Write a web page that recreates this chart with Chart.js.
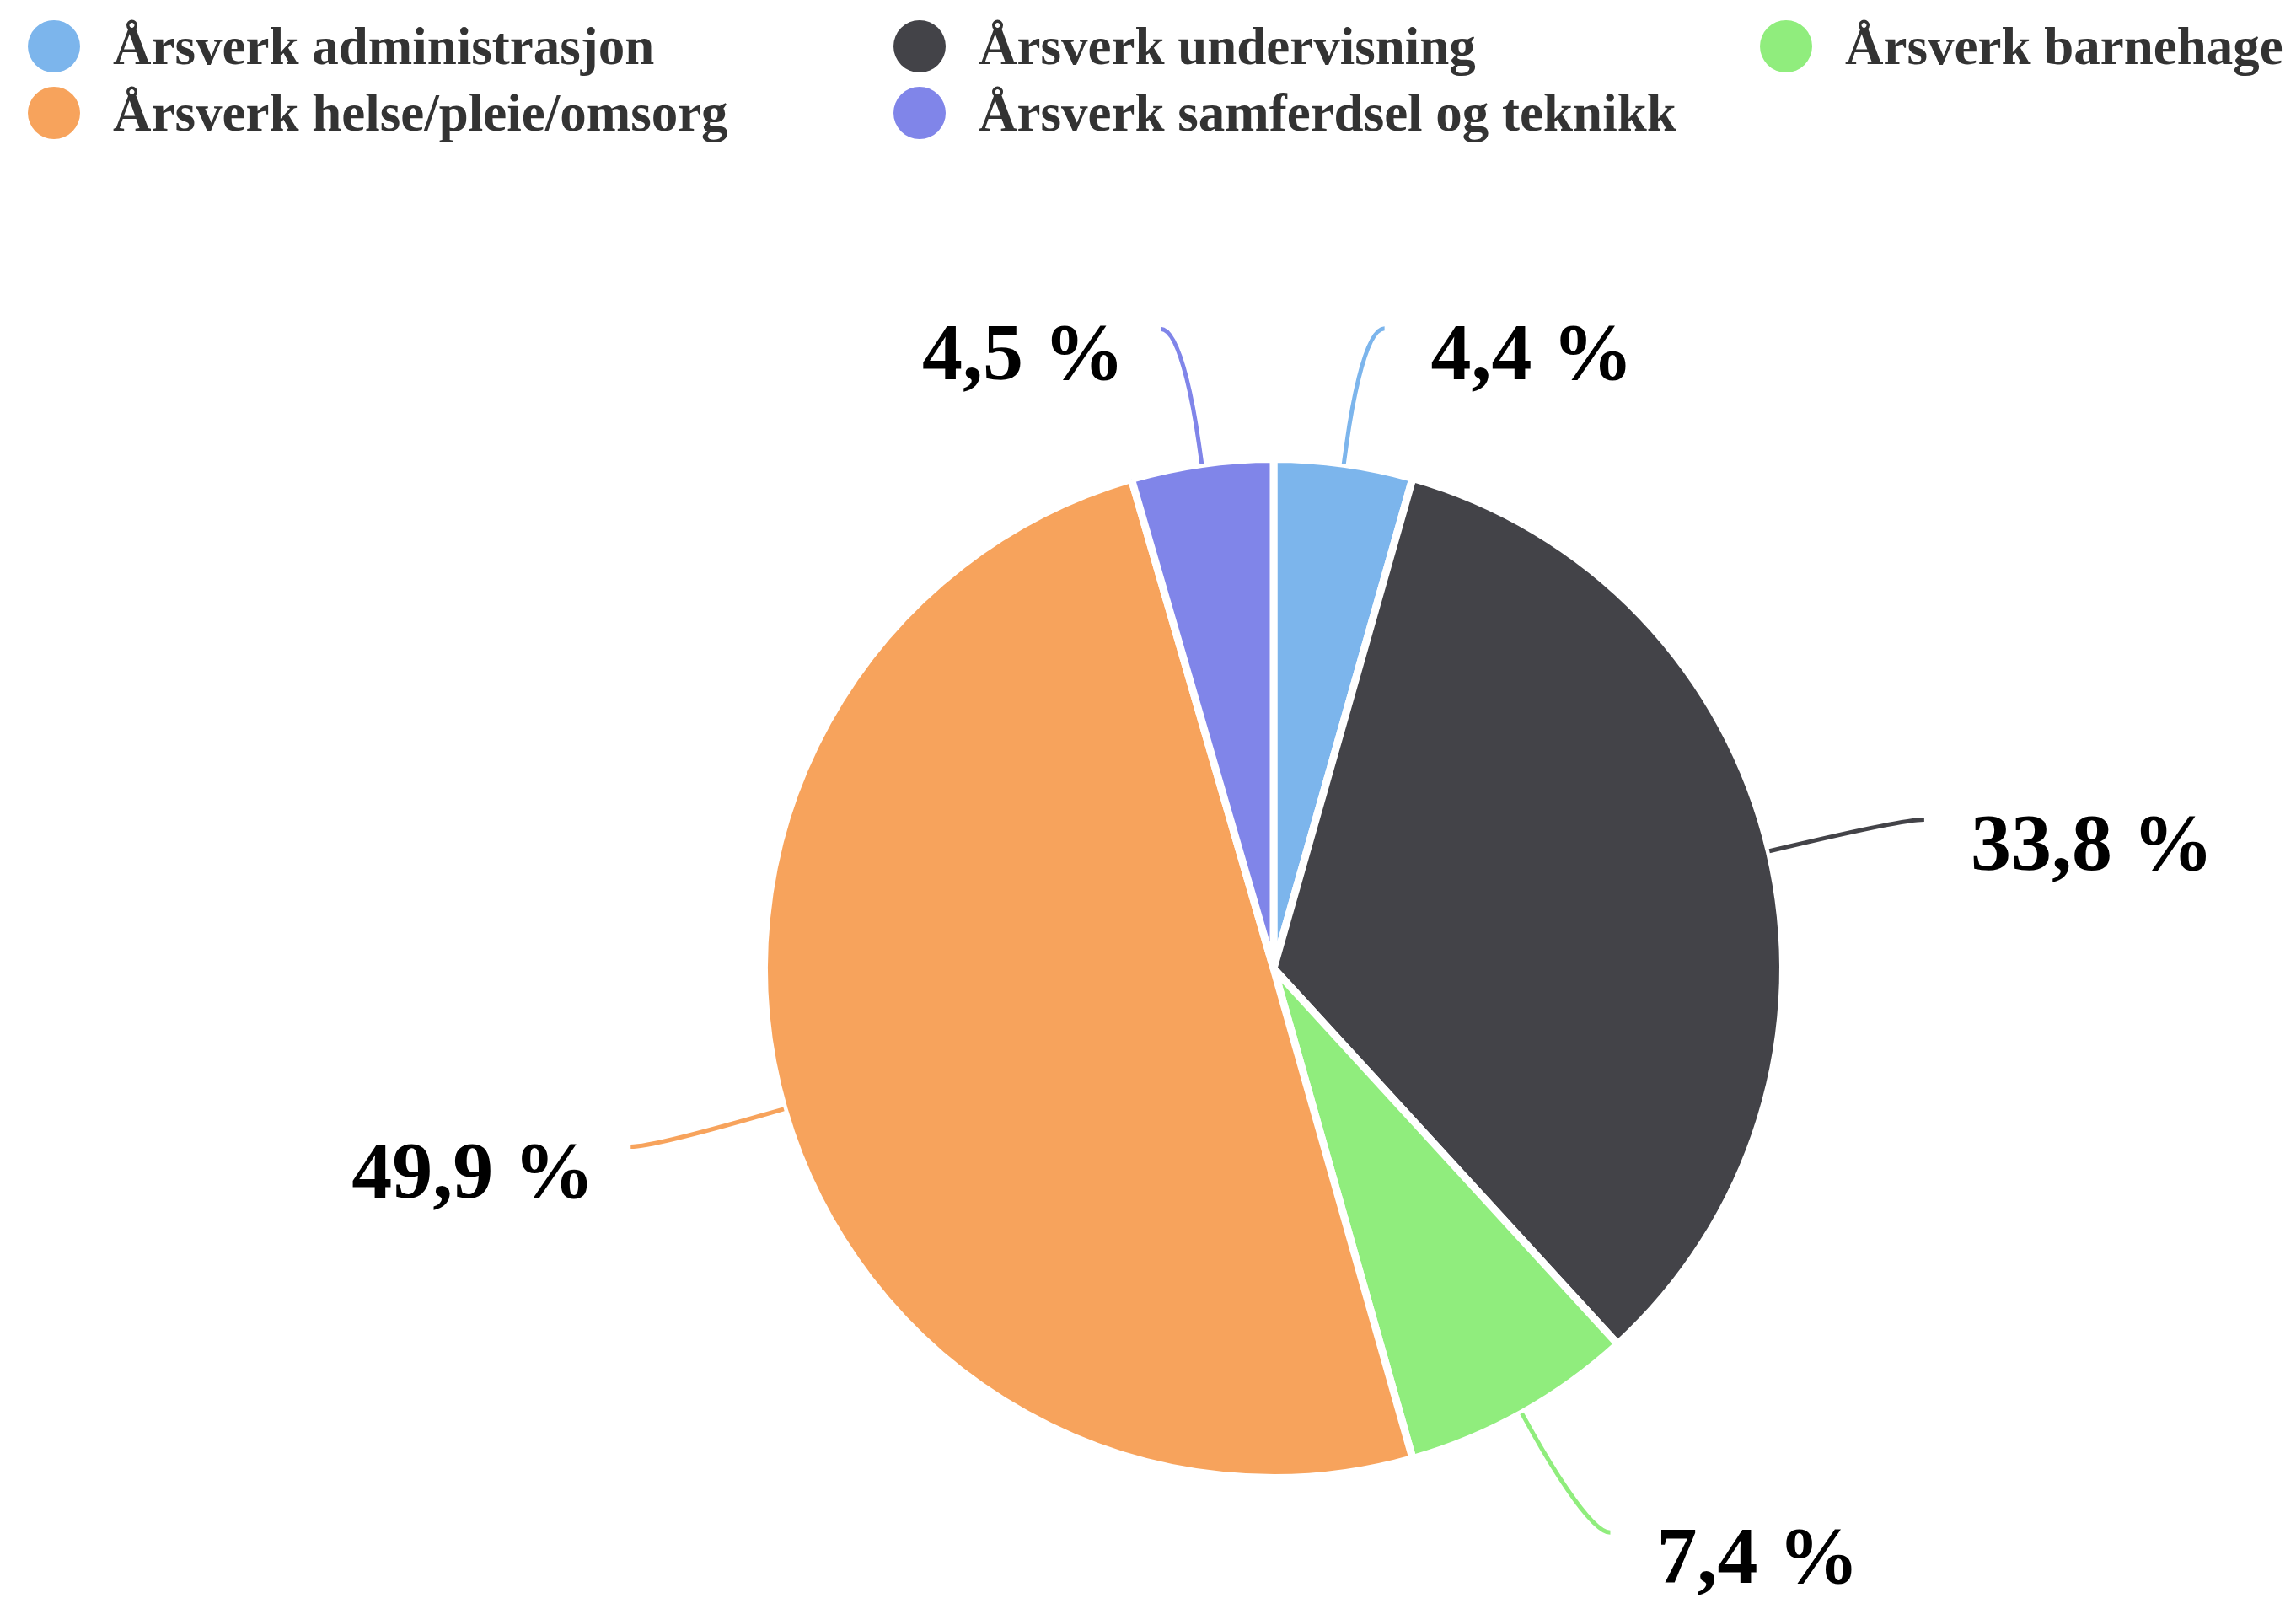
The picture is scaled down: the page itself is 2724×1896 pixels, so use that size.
<!DOCTYPE html>
<html lang="no">
<head>
<meta charset="utf-8">
<title>Årsverk</title>
<script src="https://cdn.jsdelivr.net/npm/chart.js@4.4.1/dist/chart.umd.min.js"></script>
<style>
  html, body { margin: 0; padding: 0; background: #fff; }
  #wrap { position: relative; width: 2724px; height: 1896px; overflow: hidden; }
  #legend { position: absolute; left: 0; top: 0; width: 100%; font: bold 63px 'Liberation Serif', 'Times New Roman', serif; color: #333333; }
  .item { position: absolute; height: 80px; line-height: 80px; white-space: nowrap; }
  .dot { position: absolute; left: 0; top: 9px; width: 62px; height: 62px; border-radius: 50%; }
  .txt { position: absolute; left: 101px; top: 0; }
</style>
</head>
<body>
<div id="wrap">
  <canvas id="pie"></canvas>
  <div id="legend"></div>
</div>
<script>
// Data
const categories = [
    'Årsverk administrasjon',
    'Årsverk undervisning',
    'Årsverk barnehage',
    'Årsverk helse/pleie/omsorg',
    'Årsverk samferdsel og teknikk'
];
const shares = [4.4, 33.8, 7.4, 49.9, 4.5];
const colors = ['#7cb5ec', '#434348', '#90ed7d', '#f7a35c', '#8085e9'];

// Legend (3 columns, row by row)
const legend = document.getElementById('legend');
const colX = [33, 1060, 2088];
const rowY = [15, 94];
categories.forEach((name, i) => {
    const item = document.createElement('div');
    item.className = 'item';
    item.style.left = colX[i % 3] + 'px';
    item.style.top = rowY[Math.floor(i / 3)] + 'px';
    item.innerHTML = '<span class="dot" style="background:' + colors[i] + '"></span><span class="txt"></span>';
    item.querySelector('.txt').textContent = name;
    legend.appendChild(item);
});

// Labels with connectors
const pieLabels = {
    id: 'pieLabels',
    afterDatasetsDraw(chart) {
        const ctx = chart.ctx;
        const meta = chart.getDatasetMeta(0);
        ctx.save();
        ctx.font = 'bold 96px "Liberation Serif", "Times New Roman", serif';
        ctx.fillStyle = '#000000';
        ctx.textBaseline = 'alphabetic';
        meta.data.forEach((arc, i) => {
            const p = arc.getProps(['x', 'y', 'startAngle', 'endAngle', 'outerRadius'], true);
            const mid = (p.startAngle + p.endAngle) / 2;
            const cos = Math.cos(mid), sin = Math.sin(mid);
            const dir = cos >= 0 ? 1 : -1;
            const r = p.outerRadius;
            const edge = { x: p.x + cos * r, y: p.y + sin * r };
            const brk = { x: p.x + cos * (r + 25), y: p.y + sin * (r + 25) };
            const R = r + 162;
            const end = { x: p.x + dir * (R * Math.abs(cos) + 26), y: p.y + R * sin };

            ctx.beginPath();
            ctx.moveTo(end.x, end.y);
            ctx.bezierCurveTo(end.x - dir * 25, end.y, 2 * brk.x - edge.x, 2 * brk.y - edge.y, brk.x, brk.y);
            ctx.lineTo(edge.x, edge.y);
            ctx.strokeStyle = colors[i];
            ctx.lineWidth = 5;
            ctx.stroke();

            ctx.textAlign = dir > 0 ? 'left' : 'right';
            const txt = shares[i].toFixed(1).replace('.', ',') + ' %';
            ctx.fillText(txt, end.x + dir * (dir > 0 ? 55 : 43), end.y + 60);
        });
        ctx.restore();
    }
};

const pieChart = new Chart(document.getElementById('pie'), {
    type: 'pie',
    data: {
        labels: categories,
        datasets: [{
            data: shares,
            backgroundColor: colors,
            borderColor: '#ffffff',
            borderWidth: 9,
            hoverOffset: 0
        }]
    },
    options: {
        responsive: true,
        maintainAspectRatio: false,
        animation: false,
        layout: {
            padding: { top: 540, bottom: 138, left: 300, right: 2 }
        },
        plugins: {
            legend: { display: false },
            tooltip: { enabled: false }
        }
    },
    plugins: [pieLabels]
});
</script>
</body>
</html>
